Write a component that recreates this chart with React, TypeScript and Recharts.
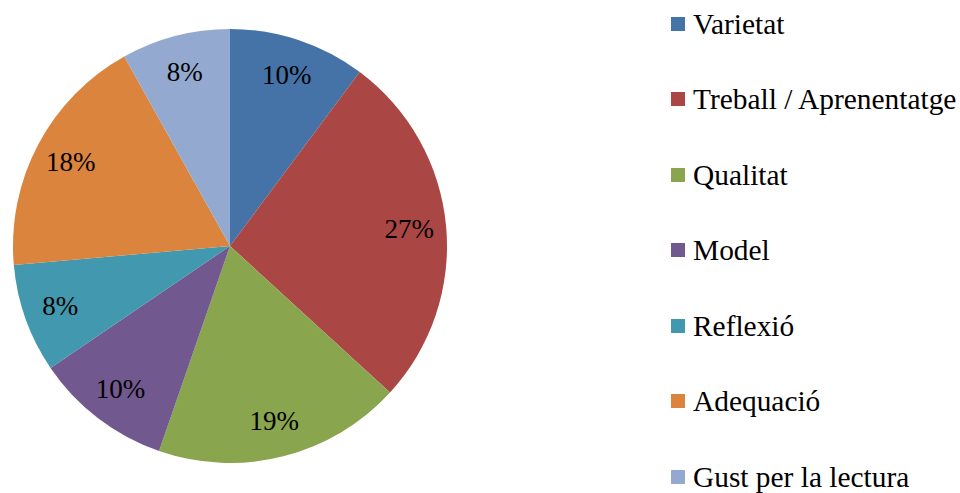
import { PieChart, Pie, Cell, Legend } from "recharts";

// Share of answers per category (percent).
const CATEGORIES = [
  "Varietat",
  "Treball / Aprenentatge",
  "Qualitat",
  "Model",
  "Reflexió",
  "Adequació",
  "Gust per la lectura",
];
const SHARES = [10.2, 26.6, 18.5, 10.2, 8.1, 18.3, 8.1];
const COLORS = [
  "#4572A7",
  "#AA4643",
  "#89A54E",
  "#71588F",
  "#4198AF",
  "#DB843D",
  "#93A9CF",
];

const FONT = '"Liberation Serif", "Times New Roman", serif';
const RADIAN = Math.PI / 180;

const data = CATEGORIES.map((name, i) => ({ name, value: SHARES[i] }));

// Percent labels sit inside the slice, at ~83% of the radius.
function renderLabel(props: any) {
  const { cx, cy, midAngle, outerRadius, value } = props;
  const r = outerRadius * 0.83;
  const x = cx + r * Math.cos(-midAngle * RADIAN);
  const y = cy + r * Math.sin(-midAngle * RADIAN);
  return (
    <text
      x={x}
      y={y}
      fill="#000"
      textAnchor="middle"
      dominantBaseline="central"
      style={{ fontFamily: FONT, fontSize: 27 }}
    >
      {`${Math.round(value)}%`}
    </text>
  );
}

// Legend rows are ~75.6px apart; keep each row box small so the last
// one doesn't push past the bottom of the page.
function LegendList() {
  return (
    <div style={{ fontFamily: FONT, fontSize: 29.4, color: "#000" }}>
      {CATEGORIES.map((name, i) => (
        <div
          key={name}
          style={{
            height: 30,
            lineHeight: "30px",
            marginBottom: i < CATEGORIES.length - 1 ? 45.6 : 0,
            display: "flex",
            alignItems: "center",
          }}
        >
          <span
            style={{
              width: 14,
              height: 14,
              background: COLORS[i],
              marginRight: 8,
              flex: "none",
            }}
          />
          <span style={{ whiteSpace: "nowrap" }}>{name}</span>
        </div>
      ))}
    </div>
  );
}

export default function App() {
  return (
    <>
      <style>{"html, body { margin: 0; overflow: hidden; }"}</style>
      <PieChart
        width={960}
        height={493}
        margin={{ top: 0, right: 0, bottom: 0, left: 0 }}
      >
        <Pie
          data={data}
          dataKey="value"
          nameKey="name"
          cx={230}
          cy={246}
          outerRadius={217}
          startAngle={90}
          endAngle={-270}
          stroke="none"
          label={renderLabel}
          labelLine={false}
          isAnimationActive={false}
        >
          {data.map((d, i) => (
            <Cell key={d.name} fill={COLORS[i]} />
          ))}
        </Pie>
        <Legend
          content={() => <LegendList />}
          wrapperStyle={{ left: 671, top: 8.5, width: 289 }}
        />
      </PieChart>
    </>
  );
}
